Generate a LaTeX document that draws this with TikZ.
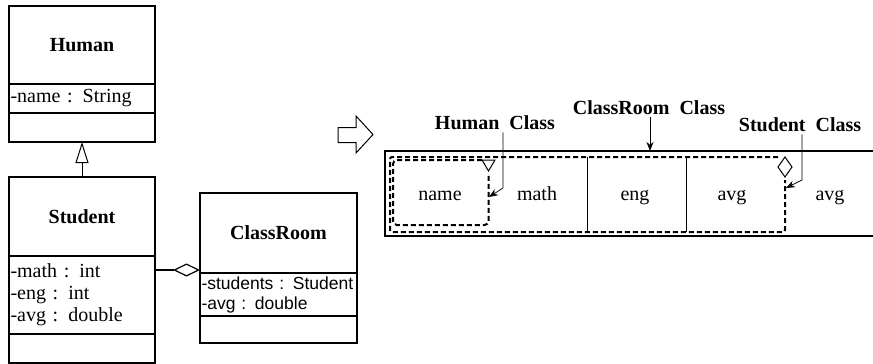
\documentclass[tikz,border=0pt]{standalone}
\usepackage{fontspec}
\setmainfont{Liberation Serif}
\newfontfamily\uisans{Liberation Sans}
\usetikzlibrary{positioning,arrows.meta}
\begin{document}
\begin{tikzpicture}
  [x=1pt,y=-1pt,
  box/.style={draw,line width=1.2pt,inner sep=0pt,outer sep=0pt,font=\fontsize{20}{22}\selectfont},
  title/.style={box,font=\fontsize{20}{22}\selectfont\bfseries},
  attr/.style={box,inner xsep=1.5pt,text width=143pt,align=left},
  inherit/.style={line width=1pt,-{Triangle[open,length=21pt,width=13pt,line width=1pt]}},
  aggr/.style={line width=1.2pt,-{Diamond[open,length=27pt,width=13pt,line width=1.2pt]}},
  frame/.style={line width=2.5pt},
  cell/.style={font=\fontsize{20}{22}\selectfont,text height=13pt,text depth=4pt},
  wall/.style={line width=0.8pt},
  dashline/.style={line width=2pt,dash pattern=on 5pt off 3pt},
  lbl/.style={inner sep=2pt,font=\fontsize{20}{22}\selectfont\bfseries},
  lead/.style={line width=0.7pt,-{Stealth[length=9pt,width=7pt]}}]
\useasboundingbox (0,0) rectangle (873,364);
% class diagram
\node[title,minimum width=146pt,minimum height=78pt] (humanT) at (82,45) {Human};
\node[attr,minimum height=29pt,below=0pt of humanT] (humanA) {-name : String};
\node[box,minimum width=146pt,minimum height=29pt,below=0pt of humanA] (humanO) {};
\node[title,minimum width=146pt,minimum height=79pt] (studT) at (82,216.5) {Student};
\node[attr,minimum height=78pt,below=0pt of studT] (studA) {-math : int\\-eng : int\\-avg : double};
\node[box,minimum width=146pt,minimum height=29pt,below=0pt of studA] (studO) {};
\node[title,minimum width=157pt,minimum height=80pt] (roomT) at (278.5,233) {ClassRoom};
\node[attr,text width=154pt,minimum height=43pt,font=\uisans\fontsize{17.5}{20}\selectfont,below=0pt of roomT] (roomA)
  {\mbox{-students : Student}\\\mbox{-avg : double}};
\node[box,minimum width=157pt,minimum height=27pt,below=0pt of roomA] (roomO) {};
\draw[inherit] (studT.north) -- (humanO.south);
\coordinate (aggR) at ([yshift=3pt]roomT.south west);
\draw[aggr] (studA.east |- aggR) -- (aggR);
% block arrow
\draw[line width=1pt] (338,127.5) -- (356,127.5) -- (356,116) -- (373,134.5) -- (356,153)
  -- (356,142.5) -- (338,142.5) -- cycle;
% memory layout
\draw[frame] (873,151) -| (385,236) -- (873,236);
\node[cell] (name) at (440,196) {name};
\node[cell] (math) at (537,196) {math};
\node[cell] (eng) at (635,196) {eng};
\node[cell] (avg) at (732,196) {avg};
\node[cell] (avgB) at (830,196) {avg};
\draw[wall] (587,157) -- (587,232);
\draw[wall] (686,157) -- (686,232);
\draw[dashline,rounded corners=4pt] (482,160) -- (393,160) -- (393,225) -- (488.5,225) -- (488.5,174);
\draw[dashline,rounded corners=2pt] (778,157) -- (390,157) -- (390,232) -- (785,232) -- (785,180);
\draw[line width=1pt] (482,160) -- (495,160) -- (488.5,171) -- cycle;
\draw[line width=1pt] (785,157) -- (792,167) -- (785,177) -- (778,167) -- cycle;
\node[lbl] (humanL) at (495,123) {Human\ \ Class};
\node[lbl] (roomL) at (649,108) {ClassRoom\ \ Class};
\node[lbl] (studL) at (800,125) {Student\ \ Class};
\coordinate (humanK) at (503,188);
\coordinate (humanE) at (489,197);
\coordinate (roomE) at (650,151);
\coordinate (studK) at (802,180);
\coordinate (studE) at (786,188);
\draw[lead] (humanL.south -| humanK) -- (humanK) -- (humanE);
\draw[lead] (roomL.south -| roomE) -- (roomE);
\draw[lead] (studL.south -| studK) -- (studK) -- (studE);
\end{tikzpicture}
\end{document}
